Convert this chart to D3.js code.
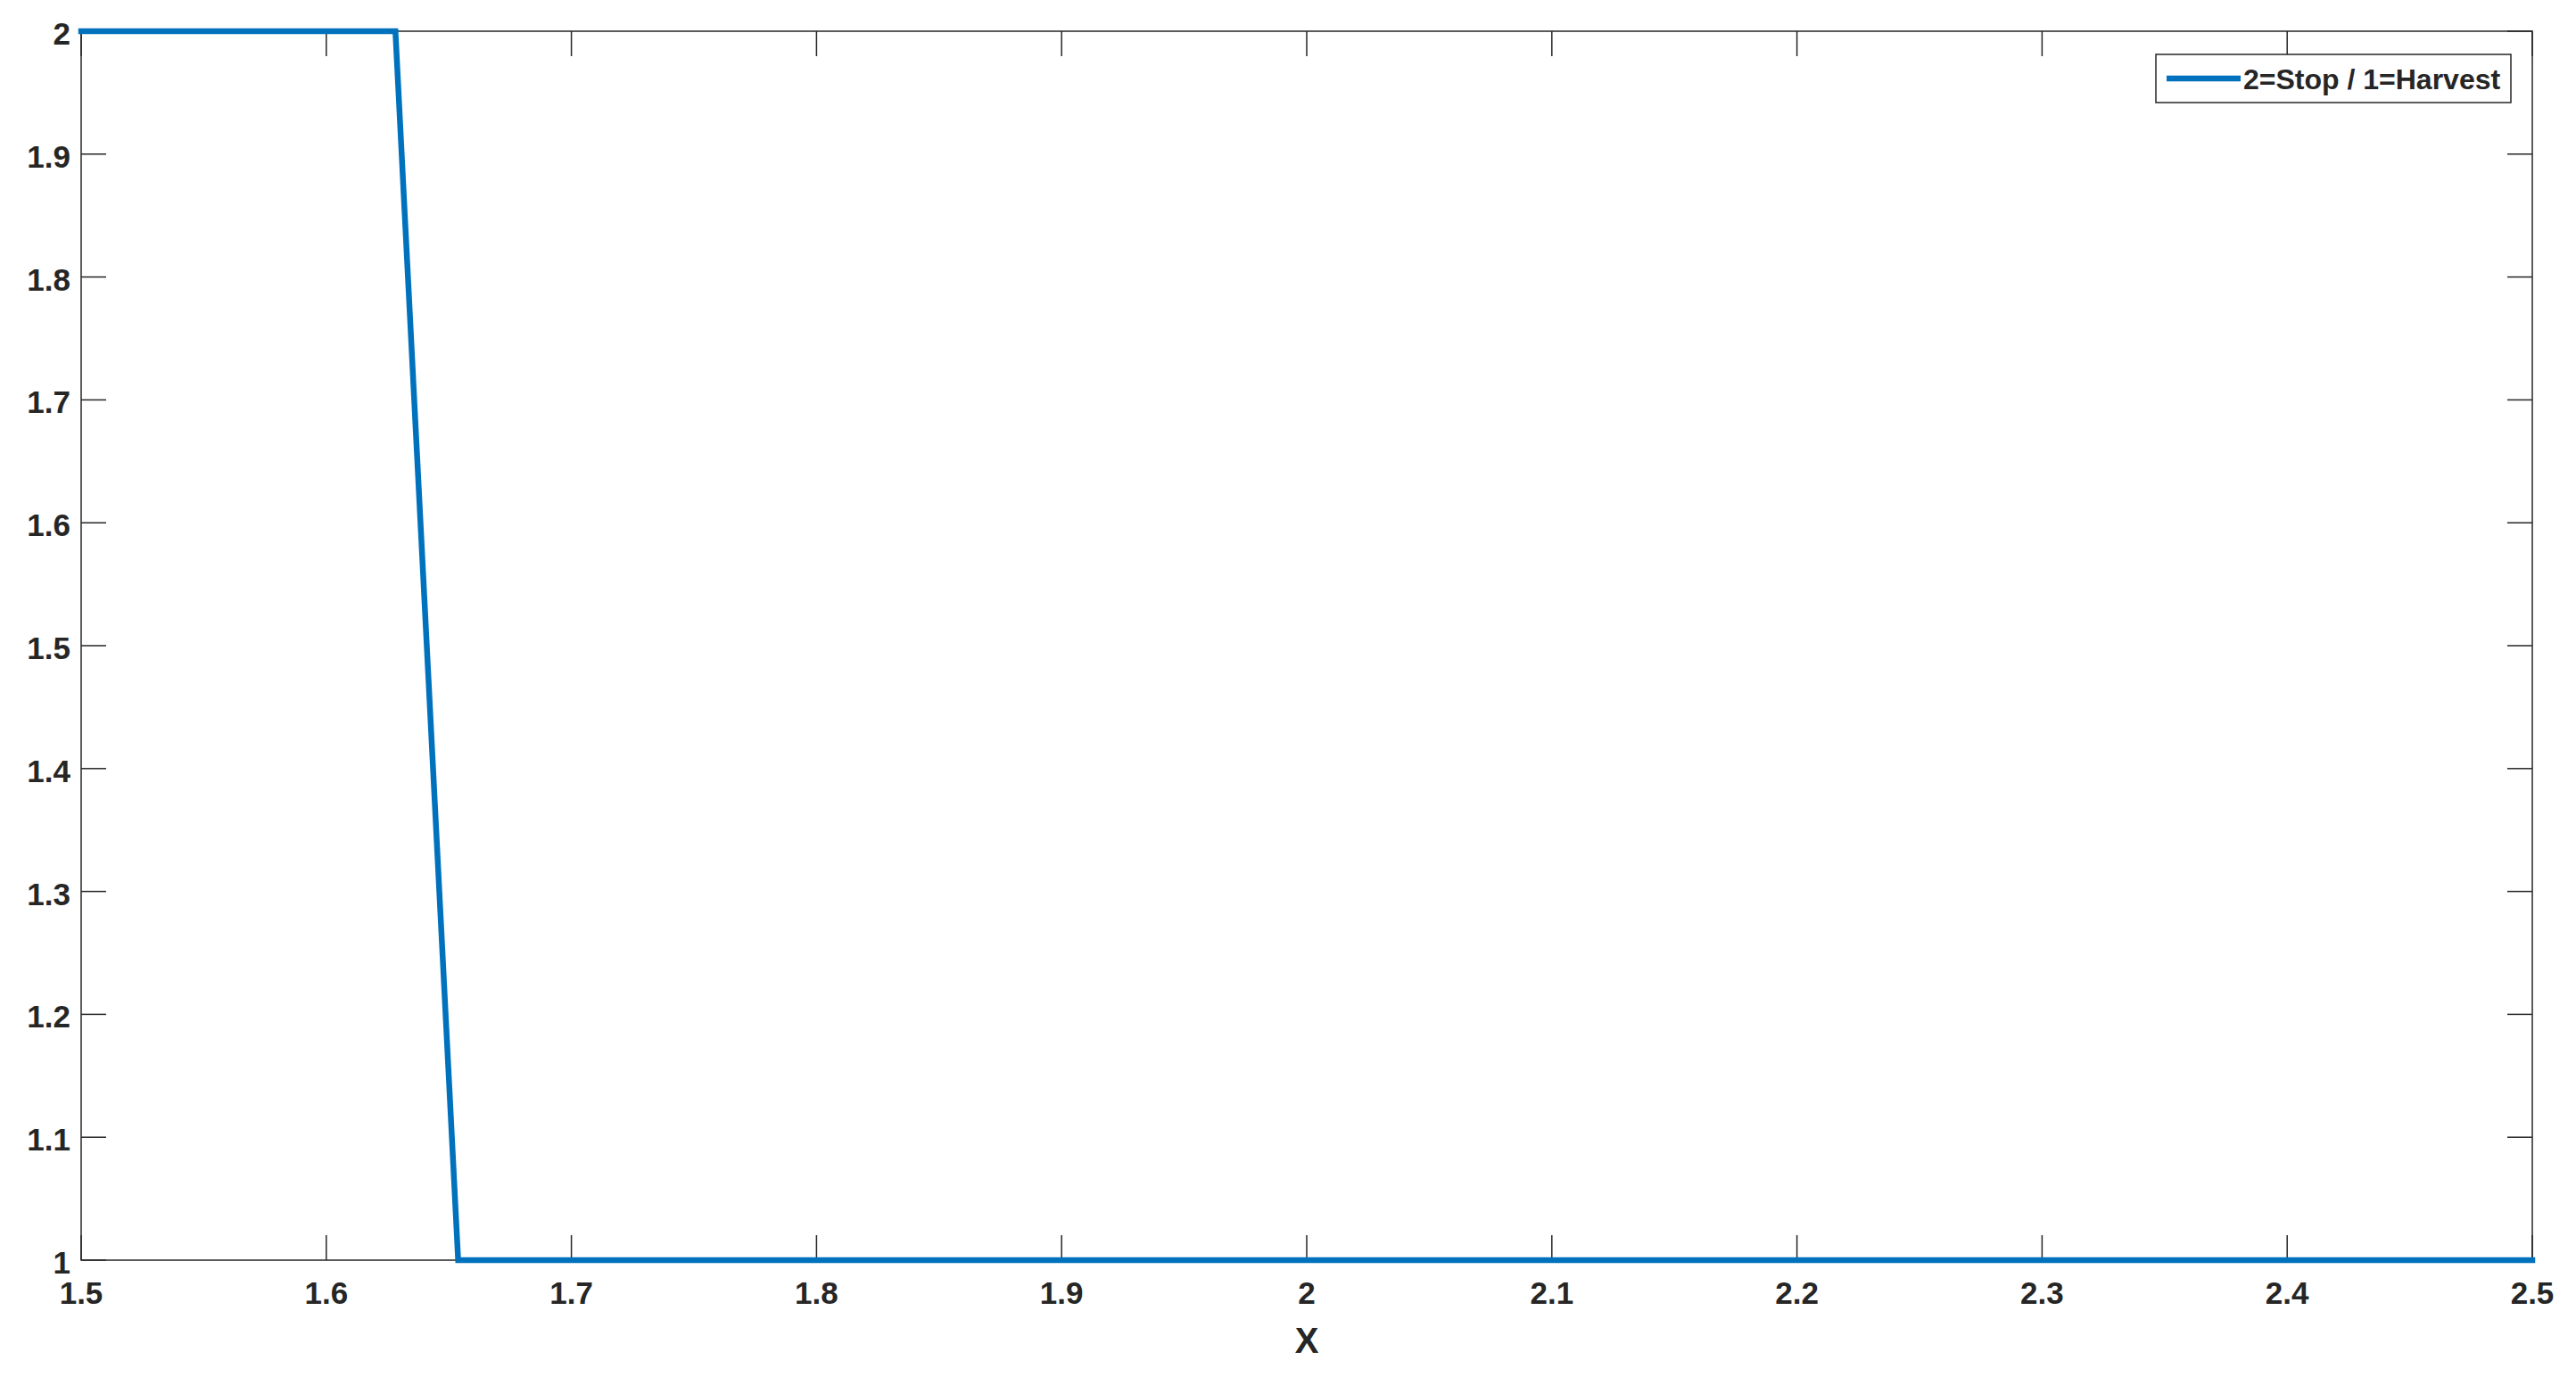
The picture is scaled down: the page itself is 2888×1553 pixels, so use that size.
<!DOCTYPE html>
<html>
<head>
<meta charset="utf-8">
<script src="https://cdn.jsdelivr.net/npm/d3@7"></script>
<style>
    body { margin: 0; background: #fff; }
    text { font-family: "Liberation Sans", Arial, sans-serif; font-weight: bold; fill: #262626; }
</style>
</head>
<body>
<div id="chart"></div>
<script>
// decision over x: 2 = stop, 1 = harvest
let xvals = [1.5, 1.6282, 1.6538, 2.5];
let decision = [2, 2, 1, 1];
let xticks = [1.5, 1.6, 1.7, 1.8, 1.9, 2, 2.1, 2.2, 2.3, 2.4, 2.5];
let yticks = [1, 1.1, 1.2, 1.3, 1.4, 1.5, 1.6, 1.7, 1.8, 1.9, 2];
let seriesName = '2=Stop / 1=Harvest';
let xlabel = 'X';

let width = 2888;
let height = 1553;
let margin = {left: 91, right: 49, top: 35, bottom: 140};
let blue = '#0072BD';
let axisColor = '#262626';
let tickLen = 28;

var svg = d3.select('#chart')
    .append('svg')
    .attr('width', width)
    .attr('height', height);

var x = d3.scaleLinear().domain([1.5, 2.5]).range([margin.left, width - margin.right]);
var y = d3.scaleLinear().domain([1, 2]).range([height - margin.bottom, margin.top]);

let x0 = x.range()[0], x1 = x.range()[1];
let y0 = y.range()[0], y1 = y.range()[1];

// ticks on all four sides, pointing inwards
var ticks = svg.append('g').attr('stroke', axisColor).attr('stroke-width', 1.5);
xticks.forEach((t) => {
    ticks.append('line').attr('x1', x(t)).attr('x2', x(t)).attr('y1', y0).attr('y2', y0 - tickLen);
    ticks.append('line').attr('x1', x(t)).attr('x2', x(t)).attr('y1', y1).attr('y2', y1 + tickLen);
});
yticks.forEach((t) => {
    ticks.append('line').attr('x1', x0).attr('x2', x0 + tickLen).attr('y1', y(t)).attr('y2', y(t));
    ticks.append('line').attr('x1', x1).attr('x2', x1 - tickLen).attr('y1', y(t)).attr('y2', y(t));
});

svg.append('rect')
    .attr('x', x0).attr('y', y1)
    .attr('width', x1 - x0).attr('height', y0 - y1)
    .attr('fill', 'none')
    .attr('stroke', axisColor)
    .attr('stroke-width', 1.5);

// tick labels
svg.append('g').selectAll('text')
    .data(xticks)
    .enter()
    .append('text')
    .attr('x', (d) => x(d))
    .attr('y', y0 + 49)
    .attr('text-anchor', 'middle')
    .style('font-size', '35px')
    .text((d) => d);

svg.append('g').selectAll('text')
    .data(yticks)
    .enter()
    .append('text')
    .attr('x', x0 - 12)
    .attr('y', (d) => y(d) + 15)
    .attr('text-anchor', 'end')
    .style('font-size', '35px')
    .text((d) => d);

svg.append('text')
    .attr('x', (x0 + x1) / 2)
    .attr('y', y0 + 104)
    .attr('text-anchor', 'middle')
    .style('font-size', '40px')
    .text(xlabel);

// the line
var line = d3.line()
    .x((d, i) => x(xvals[i]))
    .y((d) => y(d));

svg.append('path')
    .datum(decision)
    .attr('d', line)
    .attr('fill', 'none')
    .attr('stroke', blue)
    .attr('stroke-width', 6.5)
    .attr('stroke-linecap', 'square')
    .attr('stroke-linejoin', 'miter');

// legend
var legend = svg.append('g');
legend.append('rect')
    .attr('x', 2417).attr('y', 61)
    .attr('width', 398).attr('height', 54)
    .attr('fill', '#fff')
    .attr('stroke', axisColor)
    .attr('stroke-width', 1.5);
legend.append('line')
    .attr('x1', 2429).attr('x2', 2512)
    .attr('y1', 88).attr('y2', 88)
    .attr('stroke', blue)
    .attr('stroke-width', 6.5);
legend.append('text')
    .attr('x', 2515)
    .attr('y', 100)
    .style('font-size', '32px')
    .text(seriesName);
</script>
</body>
</html>
